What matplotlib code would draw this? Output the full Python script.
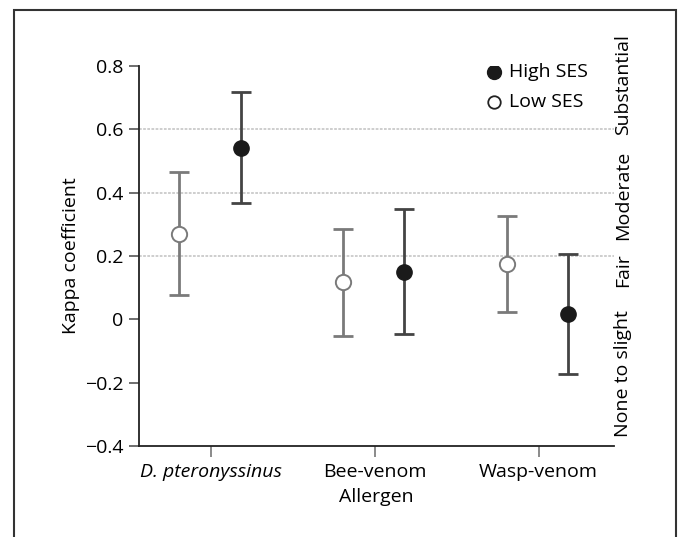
import matplotlib.pyplot as plt
import numpy as np
from matplotlib.patches import Rectangle

plt.rcParams['font.family'] = ['Open Sans', 'DejaVu Sans']
plt.rcParams['font.size'] = 14
plt.rcParams['axes.unicode_minus'] = True

allergens = ["D. pteronyssinus", "Bee-venom", "Wasp-venom"]
low_kappa = [0.27, 0.117, 0.174]
low_lo = [0.076, -0.054, 0.022]
low_hi = [0.464, 0.284, 0.325]
high_kappa = [0.54, 0.149, 0.016]
high_lo = [0.366, -0.047, -0.174]
high_hi = [0.717, 0.348, 0.205]
bands = [0.2, 0.4, 0.6]
band_names = ["Substantial", "Moderate", "Fair", "None to slight"]
band_pos = [0.74, 0.39, 0.155, -0.17]

fig = plt.figure(figsize=(6.83, 5.37), dpi=100)
ax = fig.add_axes([139/683, 1-446/537, 475/683, 380/537])

# frame round the figure (bottom edge is cut off)
fig.patches.append(Rectangle((14/683, -0.05), 662/683, 1.05-10/537, transform=fig.transFigure,
                             fill=False, edgecolor='#333333', linewidth=1.5))

x = np.arange(len(allergens))
xl = x - 0.195
xh = x + 0.18

for b in bands:
    ax.axhline(b, color='#cacaca', lw=1.3, ls=(0, (1.5, 0.8)), zorder=0)

low_err = [np.array(low_kappa) - np.array(low_lo), np.array(low_hi) - np.array(low_kappa)]
high_err = [np.array(high_kappa) - np.array(high_lo), np.array(high_hi) - np.array(high_kappa)]

ax.errorbar(xl, low_kappa, yerr=low_err, fmt='none', ecolor='#7a7a7a', elinewidth=2,
            capsize=7.5, capthick=2, zorder=2)
ax.errorbar(xh, high_kappa, yerr=high_err, fmt='none', ecolor='#444444', elinewidth=2,
            capsize=7.5, capthick=2, zorder=2)
ax.plot(xl, low_kappa, 'o', ms=11, mfc='white', mec='#7a7a7a', mew=1.4, ls='none', zorder=3)
ax.plot(xh, high_kappa, 'o', ms=11, mfc='#1a1a1a', mec='#1a1a1a', ls='none', zorder=3)

ax.set_xlim(-0.44, 2.46)
ax.set_ylim(-0.4, 0.8)
ax.set_yticks([-0.4, -0.2, 0, 0.2, 0.4, 0.6, 0.8])
ax.set_yticklabels(['\u22120.4', '\u22120.2', '0', '0.2', '0.4', '0.6', '0.8'])
ax.set_xticks(x)
ax.set_xticklabels(allergens)
ax.get_xticklabels()[0].set_style('italic')
ax.tick_params(axis='y', length=7, width=1.2, color='#555555', pad=4)
ax.tick_params(axis='x', length=8, width=1.2, color='#777777', pad=4)

for s in ['top', 'right']:
    ax.spines[s].set_visible(False)
for s in ['left', 'bottom']:
    ax.spines[s].set_linewidth(1.3)
    ax.spines[s].set_color('#222222')

ax.set_ylabel("Kappa coefficient", labelpad=4)
ax.set_xlabel("Allergen", labelpad=5)

# band labels on the right
for name, p in zip(band_names, band_pos):
    ax.text(1.02, p, name, rotation=90, va='center', ha='center',
            transform=ax.get_yaxis_transform())

# legend
lx = 1.73
ax.plot([lx], [0.78], 'o', ms=10, mfc='#1a1a1a', mec='#1a1a1a')
ax.plot([lx], [0.685], 'o', ms=9, mfc='white', mec='#222222', mew=1.3)
ax.text(lx + 0.09, 0.78, "High SES", va='center', ha='left')
ax.text(lx + 0.09, 0.685, "Low SES", va='center', ha='left')

fig.savefig("out.png", dpi=100)
